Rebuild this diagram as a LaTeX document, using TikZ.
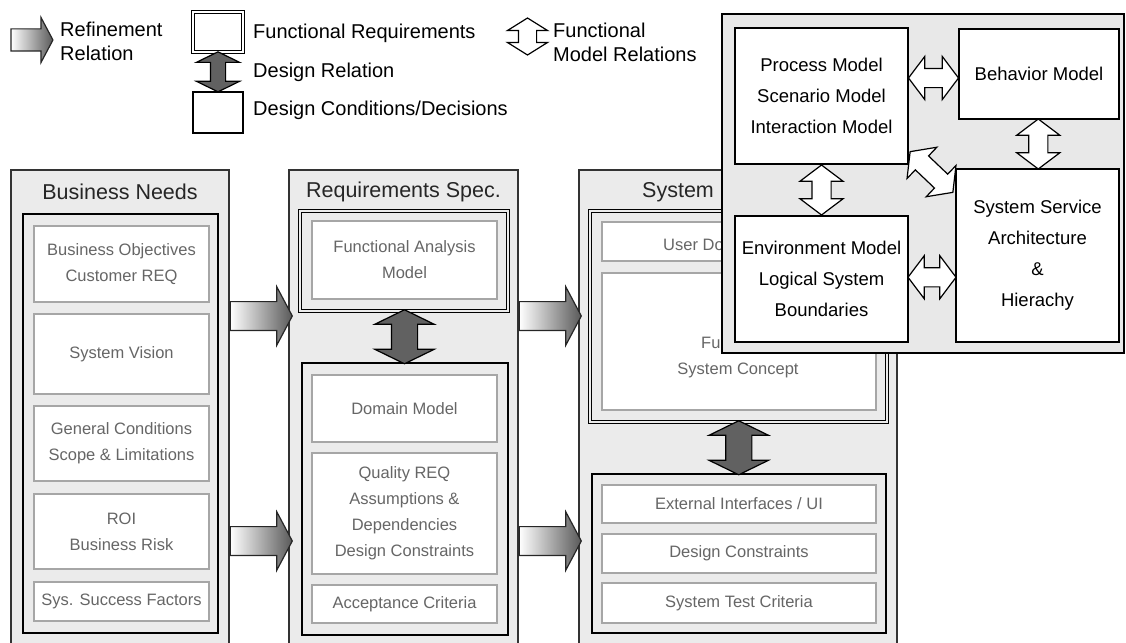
\documentclass[tikz,border=0pt]{standalone}
\usepackage{fontspec}
\setmainfont{Liberation Sans}
\usetikzlibrary{calc}
\usetikzlibrary{shapes.arrows}

\begin{document}
\begin{tikzpicture}[x=1pt, y=-1pt,
    colbox/.style={draw=black!80, line width=1.4, fill=black!8, inner sep=0},
    grpbox/.style={draw=black, line width=2, fill=black!8, inner sep=0},
    dblbox/.style={draw=black, line width=1.1, double=black!8, double distance=1.5, fill=black!8, inner sep=0},
    subbox/.style={draw=black!35, line width=1.2, fill=white, text=black!60, align=center,
      font=\fontsize{16.5}{26}\selectfont, inner sep=0},
    subtext/.style={text=black!60, font=\fontsize{16.5}{26}\selectfont, inner sep=0},
    mdlbox/.style={draw=black, line width=1.6, fill=white, align=center,
      font=\fontsize{18.5}{31}\selectfont, inner sep=0},
    ttl/.style={font=\fontsize{21.5}{25}\selectfont, text=black!85, inner sep=0},
    lgd/.style={font=\fontsize{20}{24}\selectfont, align=left, anchor=west, inner sep=0},
    refarr/.style={single arrow, draw=black!85, line width=1.2, left color=white, right color=black!65,
      inner xsep=1, inner ysep=13.8, single arrow head extend=14.7, single arrow tip angle=124, minimum height=62},
    desarr/.style={double arrow, draw=black, line width=1.2, fill=black!62, inner xsep=1, inner ysep=12.5,
      double arrow head extend=16.5, double arrow tip angle=128, minimum height=54, rotate=90},
    fmarr/.style={double arrow, draw=black, line width=1.2, fill=white, inner xsep=1, inner ysep=9,
      double arrow head extend=12, double arrow tip angle=106, minimum height=50},
  ]
  \useasboundingbox (0,0) rectangle (1126,642);
  \clip (0,0) rectangle (1126,642);

  % legend
  \node[refarr, minimum height=42, inner ysep=10.5, single arrow head extend=11.5] (lra) at (29,40) {};
  \node[lgd] (lrt) at (60,41.5) {Refinement\\Relation};
  \node[dblbox, line width=1.3, double=white, fill=white, minimum width=50, minimum height=40] (lfr) at (218,32) {};
  \node[draw=black, line width=2, fill=white, minimum width=50, minimum height=41, inner sep=0] (ldc) at (218,112.5) {};
  \node[desarr, minimum height=40, inner ysep=7, double arrow head extend=14] (ldr) at ($(lfr.south)!0.5!(ldc.north)$) {};
  \node[lgd] (lfrt) at (253,33) {Functional Requirements};
  \node[lgd] (ldrt) at (253,72) {Design Relation};
  \node[lgd] (ldct) at (253,110) {Design Conditions/Decisions};
  \node[fmarr, rotate=90, minimum height=37, inner ysep=8.5, double arrow head extend=11, double arrow tip angle=116] (lfm) at (527.5,36.5) {};
  \node[lgd] (lfmt) at (553,42.5) {Functional\\Model Relations};

  % business needs
  \node[colbox, minimum width=218, minimum height=480] (bn) at (120,410) {};
  \node[ttl] (bnt) at (120,192) {Business Needs};
  \node[grpbox, minimum width=195, minimum height=419] (bng) at (120.5,423.5) {};
  \node[subbox, minimum width=175, minimum height=76] (bo) at (121.5,264) {Business Objectives\\Customer REQ};
  \node[subbox, minimum width=175, minimum height=80] (sv) at (121.5,354) {System Vision};
  \node[subbox, minimum width=175, minimum height=75] (gc) at (121.5,443.5) {General Conditions\\Scope \& Limitations};
  \node[subbox, minimum width=175, minimum height=75] (roi) at (121.5,531.5) {ROI\\Business Risk};
  \node[subbox, minimum width=175, minimum height=39] (ssf) at (121.5,601.5) {Sys. Success Factors};

  % requirements spec
  \node[colbox, minimum width=229, minimum height=480] (rs) at (403.5,410) {};
  \node[ttl] (rst) at (403.5,192) {Requirements Spec.};
  \node[dblbox, minimum width=208, minimum height=100] (rsf) at (404,261) {};
  \node[subbox, minimum width=185, minimum height=78] (fam) at (404.5,260) {Functional Analysis\\Model};
  \node[grpbox, minimum width=206, minimum height=272] (rsg) at (405,499) {};
  \node[subbox, minimum width=185, minimum height=67] (dom) at (404.5,408.5) {Domain Model};
  \node[subbox, minimum width=185, minimum height=121] (qr) at (404.5,513.5) {Quality REQ\\Assumptions \&\\Dependencies\\Design Constraints};
  \node[subbox, minimum width=185, minimum height=38] (ac) at (404.5,604) {Acceptance Criteria};
  \node[desarr] (rsd) at ($(rsf.south)!0.5!(rsg.north)$) {};

  % system
  \node[colbox, minimum width=318, minimum height=480] (sy) at (738,410) {};
  \node[ttl, anchor=west] (syt) at (642,192) {System};
  \node[dblbox, minimum width=297, minimum height=211] (syf) at (738.5,316.5) {};
  \node[subbox, minimum width=274, minimum height=39] (ud) at (739,241.5) {};
  \node[subbox, minimum width=274, minimum height=137] (fsc) at (739,341.5) {};
  \node[subtext, anchor=west] (udt) at (663,245) {User Do};
  \node[subtext, anchor=west] (fut) at (701,343) {Fu};
  \node[subtext] (sct) at (738,370) {System Concept};
  \node[grpbox, minimum width=294, minimum height=159] (syg) at (739,553.5) {};
  \node[subbox, minimum width=274, minimum height=38] (ei) at (739,504) {External Interfaces / UI};
  \node[subbox, minimum width=274, minimum height=39] (dc) at (739,553.5) {Design Constraints};
  \node[subbox, minimum width=274, minimum height=40] (st) at (739,603) {System Test Criteria};
  \node[desarr] (syd) at ($(syf.south)!0.5!(syg.north)$) {};

  % refinement
  \node[refarr, anchor=tail] (r1) at (bn.east |- 0,316) {};
  \node[refarr, anchor=tail] (r2) at (bn.east |- 0,541) {};
  \node[refarr, anchor=tail] (r3) at (rs.east |- 0,316) {};
  \node[refarr, anchor=tail] (r4) at (rs.east |- 0,541) {};

  % functional models
  \node[draw=black, line width=2, fill=black!9, minimum width=402, minimum height=339, inner sep=0] (fm) at (923,183.5) {};
  \node[mdlbox, minimum width=173, minimum height=136] (pm) at (821.5,96) {Process Model\\Scenario Model\\Interaction Model};
  \node[mdlbox, minimum width=160, minimum height=90] (bm) at (1039,74) {Behavior Model};
  \node[mdlbox, minimum width=173, minimum height=126] (em) at (821.5,279) {Environment Model\\Logical System\\Boundaries};
  \node[mdlbox, minimum width=163, minimum height=173] (sa) at (1037.5,255.5) {System Service\\Architecture\\\&\\Hierachy};
  \node[fmarr, yshift=7] (f1) at ($(pm.east)!0.5!(bm.west)$) {};
  \node[fmarr, rotate=90] (f2) at ($(bm.south)!0.5!(sa.north)$) {};
  \node[fmarr, rotate=90] (f3) at ($(pm.south)!0.5!(em.north)$) {};
  \node[fmarr, yshift=-10, minimum height=48] (f4) at ($(em.east)!0.5!(sa.west)$) {};
  \node[fmarr, rotate=-43.6, minimum height=59] (f5) at (931.5,172) {};
\end{tikzpicture}
\end{document}
